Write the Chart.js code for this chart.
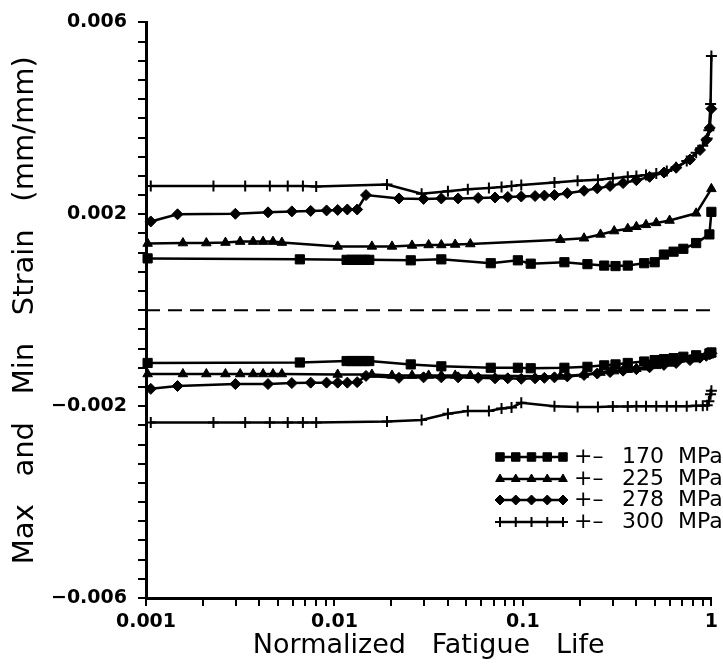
<!DOCTYPE html>
<html>
<head>
<meta charset="utf-8">
<script src="https://cdn.jsdelivr.net/npm/chart.js@4.4.0/dist/chart.umd.min.js"></script>
<style>
	html, body { margin: 0; padding: 0; background: #fff; }
</style>
</head>
<body>
<canvas id="chart" width="723" height="670"></canvas>
<script>

// normalized fatigue life (x) for each stress level, shared by max and min strain
var life170 = [0.00102, 0.00655, 0.0116, 0.0123, 0.013, 0.0138, 0.0145, 0.0153, 0.0254, 0.0369, 0.0675, 0.094, 0.11, 0.166, 0.22, 0.27, 0.31, 0.36, 0.44, 0.50, 0.56, 0.63, 0.71, 0.83, 0.976, 1.0];
var strain170Max = [0.00108, 0.00106, 0.00105, 0.00105, 0.00105, 0.00105, 0.00105, 0.00105, 0.00104, 0.00106, 0.00098, 0.00104, 0.00097, 0.001, 0.00096, 0.00093, 0.00092, 0.00093, 0.00098, 0.001, 0.00116, 0.00122, 0.00128, 0.0014, 0.00158, 0.00205];
var strain170Min = [-0.0011, -0.00109, -0.00106, -0.00106, -0.00106, -0.00106, -0.00106, -0.00106, -0.00113, -0.00117, -0.0012, -0.0012, -0.00121, -0.0012, -0.00118, -0.00115, -0.00113, -0.0011, -0.00107, -0.00104, -0.00102, -0.001, -0.00097, -0.00094, -0.0009, -0.00088];

var life225 = [0.00102, 0.00157, 0.00209, 0.00264, 0.00316, 0.0037, 0.00418, 0.00472, 0.00526, 0.0104, 0.0158, 0.0202, 0.0258, 0.0316, 0.0369, 0.0437, 0.0526, 0.158, 0.211, 0.258, 0.305, 0.36, 0.40, 0.45, 0.51, 0.60, 0.83, 1.0];
var strain225Max = [0.00139, 0.0014, 0.0014, 0.00141, 0.00143, 0.00143, 0.00143, 0.00143, 0.00141, 0.00133, 0.00133, 0.00133, 0.00135, 0.00136, 0.00136, 0.00137, 0.00138, 0.00147, 0.0015, 0.00158, 0.00165, 0.0017, 0.00174, 0.00178, 0.00182, 0.00187, 0.00202, 0.00253];
var strain225Min = [-0.00133, -0.00133, -0.00133, -0.00133, -0.00133, -0.00133, -0.00133, -0.00133, -0.00133, -0.00134, -0.00134, -0.00136, -0.00136, -0.00136, -0.00136, -0.00136, -0.00136, -0.00138, -0.00134, -0.0013, -0.00127, -0.00124, -0.00122, -0.00119, -0.00116, -0.00111, -0.00102, -0.00092];

var life278 = [0.00106, 0.00147, 0.00298, 0.00444, 0.00594, 0.00748, 0.00908, 0.0104, 0.0117, 0.0132, 0.0147, 0.022, 0.0297, 0.0369, 0.0453, 0.0579, 0.0711, 0.0831, 0.098, 0.116, 0.13, 0.147, 0.172, 0.211, 0.248, 0.29, 0.34, 0.40, 0.47, 0.56, 0.65, 0.77, 0.87, 0.94, 0.98, 1.0];
var strain278Max = [0.00185, 0.002, 0.00201, 0.00204, 0.00206, 0.00207, 0.00208, 0.00209, 0.0021, 0.0021, 0.0024, 0.00233, 0.00232, 0.00233, 0.00233, 0.00234, 0.00235, 0.00236, 0.00237, 0.00238, 0.00239, 0.0024, 0.00244, 0.00249, 0.00254, 0.00259, 0.00265, 0.00271, 0.00278, 0.00287, 0.00297, 0.00314, 0.00334, 0.00355, 0.0038, 0.0042];
var strain278Min = [-0.00164, -0.00158, -0.00154, -0.00154, -0.00152, -0.00151, -0.00151, -0.00151, -0.00151, -0.0015, -0.00137, -0.00141, -0.0014, -0.0014, -0.0014, -0.00141, -0.00142, -0.00142, -0.00143, -0.00142, -0.00141, -0.0014, -0.00138, -0.00135, -0.00132, -0.00129, -0.00126, -0.00123, -0.00119, -0.00114, -0.0011, -0.00104, -0.00099, -0.00095, -0.00092, -0.0009];

var life300 = [0.00106, 0.00228, 0.00336, 0.00454, 0.00565, 0.0068, 0.008, 0.019, 0.029, 0.040, 0.051, 0.066, 0.077, 0.087, 0.098, 0.147, 0.195, 0.25, 0.30, 0.36, 0.40, 0.45, 0.51, 0.58, 0.65, 0.74, 0.83, 0.90, 0.95, 0.97, 0.99, 1.0];
var strain300Max = [0.00259, 0.00259, 0.00259, 0.00259, 0.00259, 0.00259, 0.00258, 0.00262, 0.00243, 0.00248, 0.00252, 0.00255, 0.00257, 0.00259, 0.00261, 0.00266, 0.0027, 0.00272, 0.00275, 0.00278, 0.0028, 0.00282, 0.00285, 0.0029, 0.00298, 0.00311, 0.00328, 0.00343, 0.00358, 0.00375, 0.0043, 0.0053];
var strain300Min = [-0.00234, -0.00234, -0.00234, -0.00234, -0.00234, -0.00234, -0.00234, -0.00232, -0.00229, -0.00216, -0.0021, -0.0021, -0.00205, -0.00203, -0.00193, -0.002, -0.00202, -0.00202, -0.00201, -0.00201, -0.002, -0.002, -0.002, -0.002, -0.002, -0.002, -0.00199, -0.00199, -0.00198, -0.0019, -0.00175, -0.00168];

var stressLevels = ['170', '225', '278', '300'];
var xTickDecades = [0.001, 0.01, 0.1, 1];
var xTickLabels = ['0.001', '0.01', '0.1', '1'];
var yTickValues = [0.006, 0.002, -0.002, -0.006];
var yTickLabels = ['0.006', '0.002', '\u22120.002', '\u22120.006'];

var markers = [
	{ style: 'rect', radius: 6.5, width: 1 },
	{ style: 'triangle', radius: 5.5, width: 1 },
	{ style: 'rectRot', radius: 5.5, width: 1 },
	{ style: 'cross', radius: 5.5, width: 2 }
];

function series(life, strain, m) {
	return {
		data: life.map(function (x, i) { return { x: x, y: strain[i] }; }),
		borderColor: '#000',
		backgroundColor: '#000',
		borderWidth: 2.5,
		pointStyle: m.style,
		pointRadius: m.radius,
		pointBorderWidth: m.width,
		pointBorderColor: '#000',
		pointBackgroundColor: '#000',
		tension: 0,
		clip: false
	};
}

var datasets = [
	{
		data: [{ x: 0.001, y: 0 }, { x: 1, y: 0 }],
		borderColor: '#000',
		borderWidth: 2,
		borderDash: [14, 8],
		pointRadius: 0
	},
	series(life170, strain170Max, markers[0]),
	series(life170, strain170Min, markers[0]),
	series(life225, strain225Max, markers[1]),
	series(life225, strain225Min, markers[1]),
	series(life278, strain278Max, markers[2]),
	series(life278, strain278Min, markers[2]),
	series(life300, strain300Max, markers[3]),
	series(life300, strain300Min, markers[3])
];

// legend drawn inside the plot, rows of five markers then the stress level
var legendPlugin = {
	id: 'stressLegend',
	afterDatasetsDraw: function (chart) {
		var ctx = chart.ctx;
		var rowY = [457, 479, 500, 522];
		ctx.save();
		ctx.fillStyle = '#000';
		ctx.strokeStyle = '#000';
		ctx.textBaseline = 'middle';
		ctx.font = '22px "DejaVu Sans"';
		for (var i = 0; i < stressLevels.length; i++) {
			var m = markers[i];
			var y = rowY[i];
			ctx.lineWidth = 2.5;
			ctx.beginPath();
			ctx.moveTo(500, y);
			ctx.lineTo(563, y);
			ctx.stroke();
			for (var k = 0; k < 5; k++) {
				ctx.lineWidth = m.width;
				Chart.helpers.drawPoint(ctx, { pointStyle: m.style, radius: m.radius - 0.5, borderWidth: m.width, rotation: 0 }, 500 + k * 15.75, y);
			}
			ctx.textAlign = 'left';
			ctx.fillText('+\u2013', 574, y);
			ctx.fillText(stressLevels[i], 622, y);
			ctx.fillText('MPa', 678, y);
		}
		ctx.restore();
	}
};

var ctx = document.getElementById('chart').getContext('2d');
var chart = new Chart(ctx, {
	type: 'line',
	data: { datasets: datasets },
	plugins: [legendPlugin],
	options: {
		responsive: false,
		animation: false,
		layout: { padding: { top: 20, right: 9, bottom: 0, left: 0 } },
		plugins: {
			legend: { display: false },
			tooltip: { enabled: false }
		},
		scales: {
			x: {
				type: 'logarithmic',
				position: 'bottom',
				min: 0.001,
				max: 1,
				border: { display: true, color: '#000', width: 3 },
				grid: { drawOnChartArea: false, drawTicks: true, tickLength: 8, color: '#000', lineWidth: 2 },
				ticks: {
					autoSkip: false,
					maxRotation: 0,
					padding: 5,
					color: '#000',
					font: { family: 'DejaVu Sans', size: 19, weight: 'bold' },
					callback: function (v) {
						for (var i = 0; i < xTickDecades.length; i++) {
							if (Math.abs(v - xTickDecades[i]) / xTickDecades[i] < 1e-6) return xTickLabels[i];
						}
						return '';
					}
				},
				afterBuildTicks: function (scale) {
					// keep 1..9 x 10^n only
					scale.ticks = scale.ticks.filter(function (t) {
						var m = t.value / Math.pow(10, Math.floor(Math.log10(t.value) + 1e-9));
						return Math.abs(m - Math.round(m)) < 1e-6;
					});
				},
				afterFit: function (scale) { scale.height = 72; },
				title: {
					display: true,
					text: 'Normalized   Fatigue   Life',
					color: '#000',
					font: { family: 'DejaVu Sans', size: 27 },
					padding: { top: 0, bottom: 8 }
				}
			},
			y: {
				type: 'linear',
				position: 'left',
				min: -0.006,
				max: 0.006,
				border: { display: true, color: '#000', width: 3 },
				grid: { drawOnChartArea: false, drawTicks: true, tickLength: 8, color: '#000', lineWidth: 2 },
				ticks: {
					stepSize: 0.0004,
					maxTicksLimit: 100,
					autoSkip: false,
					padding: 11,
					color: '#000',
					font: { family: 'DejaVu Sans', size: 19, weight: 'bold' },
					callback: function (v) {
						for (var i = 0; i < yTickValues.length; i++) {
							if (Math.abs(v - yTickValues[i]) < 1e-7) return yTickLabels[i];
						}
						return '';
					}
				},
				afterFit: function (scale) { scale.width = 146; },
				title: {
					display: true,
					text: 'Max   and   Min   Strain   (mm/mm)',
					color: '#000',
					font: { family: 'DejaVu Sans', size: 29 },
					padding: { top: 8, bottom: 0 }
				}
			}
		}
	}
});
</script>
</body>
</html>
